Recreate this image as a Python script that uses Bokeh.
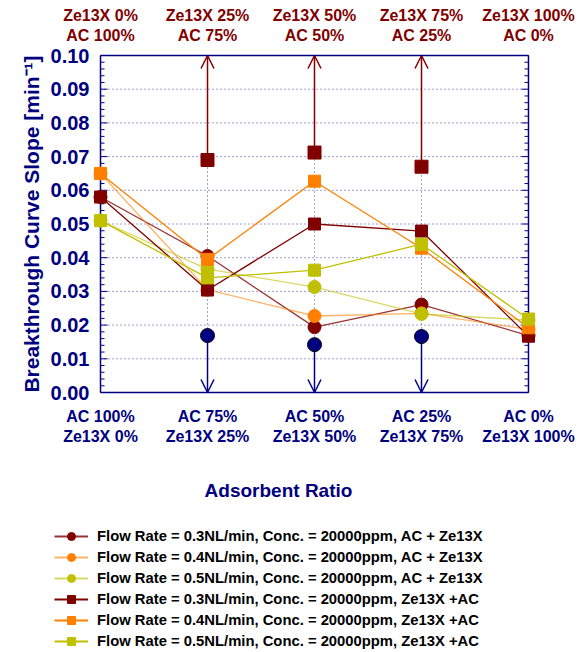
from bokeh.plotting import figure
from bokeh.layouts import column
from bokeh.models import (Range1d, LinearAxis, FixedTicker, Label, Arrow, OpenHead,
                          Legend, LegendItem, ColumnDataSource)
from bokeh.embed import file_html
from bokeh.resources import INLINE

# ---------------- data ----------------
categories = [0, 1, 2, 3, 4]
bottom_line1 = ["AC 100%", "AC 75%", "AC 50%", "AC 25%", "AC 0%"]
bottom_line2 = ["Ze13X 0%", "Ze13X 25%", "Ze13X 50%", "Ze13X 75%", "Ze13X 100%"]
top_line1 = ["Ze13X 0%", "Ze13X 25%", "Ze13X 50%", "Ze13X 75%", "Ze13X 100%"]
top_line2 = ["AC 100%", "AC 75%", "AC 50%", "AC 25%", "AC 0%"]

y_ticks = [0.00, 0.01, 0.02, 0.03, 0.04, 0.05, 0.06, 0.07, 0.08, 0.09, 0.10]
y_tick_labels = ["0.00", "0.01", "0.02", "0.03", "0.04", "0.05",
                 "0.06", "0.07", "0.08", "0.09", "0.10"]
y_minor = [round(i * 0.002, 4) for i in range(51)]
v_grid = [1, 2, 3]

s03_acze = [0.058, 0.0405, 0.0194, 0.0261, 0.0169]
s04_acze = [0.065, 0.0305, 0.0227, 0.0235, 0.0187]
s05_acze = [0.051, 0.0366, 0.0313, 0.0233, 0.0215]
s03_zeac = [0.058, 0.0304, 0.0500, 0.0479, 0.0167]
s04_zeac = [0.065, 0.0395, 0.0627, 0.0428, 0.0192]
s05_zeac = [0.051, 0.0340, 0.0363, 0.0440, 0.0218]

up_x = [1, 2, 3]
up_y = [0.069, 0.0712, 0.067]
down_x = [1, 2, 3]
down_y = [0.0169, 0.0142, 0.0166]

labels = [
    "Flow Rate = 0.3NL/min, Conc. = 20000ppm, AC + Ze13X",
    "Flow Rate = 0.4NL/min, Conc. = 20000ppm, AC + Ze13X",
    "Flow Rate = 0.5NL/min, Conc. = 20000ppm, AC + Ze13X",
    "Flow Rate = 0.3NL/min, Conc. = 20000ppm, Ze13X +AC",
    "Flow Rate = 0.4NL/min, Conc. = 20000ppm, Ze13X +AC",
    "Flow Rate = 0.5NL/min, Conc. = 20000ppm, Ze13X +AC",
]

# ---------------- styling ----------------
NAVY = "#000080"
DRED = "#800000"
ORANGE = "#ff8000"
YEL = "#c0c000"
GRID = "#4040b0"
FONT = "Liberation Sans"

XPX = 107.0      # pixels per x unit
YPX = 3370.0     # pixels per y unit
xpad = 8.0 / XPX
ypad = 3.0 / YPX

W = 585
H1 = 450
H2 = 652 - H1

p = figure(width=W, height=H1, output_backend="svg", toolbar_location=None,
           x_range=Range1d(-xpad, 4 + xpad), y_range=Range1d(-ypad, 0.1 + ypad),
           x_axis_location=None, y_axis_location=None,
           min_border_left=92, min_border_right=W - 92 - 444,
           min_border_top=52, min_border_bottom=H1 - 52 - 343)
p.outline_line_color = None
p.xgrid.visible = False
p.ygrid.visible = False
p.frame_align = False


def hide_rule(ax):
    ax.axis_line_color = None
    ax.major_tick_in = 0
    ax.major_tick_out = 0
    ax.minor_tick_in = 0
    ax.minor_tick_out = 0


# dotted grid lines
hg = y_ticks[1:-1]
p.segment(x0=[0] * len(hg), x1=[4] * len(hg), y0=hg, y1=hg,
          line_color=GRID, line_width=1, line_dash="1 3", level="underlay")
p.segment(x0=v_grid, x1=v_grid, y0=[0] * len(v_grid), y1=[0.1] * len(v_grid),
          line_color=GRID, line_width=1, line_dash="1 3", level="underlay")

# frame border and inward ticks (drawn at the data edges)
p.segment(x0=[0, 4, 0, 0], x1=[0, 4, 4, 4], y0=[0, 0, 0, 0.1], y1=[0.1, 0.1, 0, 0.1],
          line_color=NAVY, line_width=1.5)
maj_in = 7.0 / XPX
min_in = 4.0 / XPX
minor_only = [m for m in y_minor if all(abs(m - t) > 1e-9 for t in y_ticks)]
p.segment(x0=[0] * len(y_ticks), x1=[maj_in] * len(y_ticks), y0=y_ticks, y1=y_ticks,
          line_color=NAVY, line_width=1)
p.segment(x0=[0] * len(minor_only), x1=[min_in] * len(minor_only), y0=minor_only, y1=minor_only,
          line_color=NAVY, line_width=1)
p.segment(x0=[4] * len(y_ticks), x1=[4 - maj_in] * len(y_ticks), y0=y_ticks, y1=y_ticks,
          line_color=NAVY, line_width=1)
p.segment(x0=[4] * len(minor_only), x1=[4 - min_in] * len(minor_only), y0=minor_only, y1=minor_only,
          line_color=NAVY, line_width=1)

# left axis: tick labels and title
left = LinearAxis(ticker=FixedTicker(ticks=y_ticks, minor_ticks=[]),
                  axis_label="Breakthrough Curve Slope [min\u207b\u00b9]")
left.major_label_overrides = {t: l for t, l in zip(y_ticks, y_tick_labels)}
hide_rule(left)
left.major_label_text_font = FONT
left.major_label_text_font_style = "bold"
left.major_label_text_font_size = "20px"
left.major_label_text_color = NAVY
left.major_label_standoff = 3
left.axis_label_text_font = FONT
left.axis_label_text_font_style = "bold"
left.axis_label_text_font_size = "21px"
left.axis_label_text_color = NAVY
left.axis_label_standoff = 5
p.add_layout(left, "left")


def cat_axis(texts, color, standoff):
    ax = LinearAxis(ticker=FixedTicker(ticks=categories, minor_ticks=[]))
    ax.major_label_overrides = {c: t for c, t in zip(categories, texts)}
    hide_rule(ax)
    ax.major_label_text_font = FONT
    ax.major_label_text_font_style = "bold"
    ax.major_label_text_font_size = "16px"
    ax.major_label_text_color = color
    ax.major_label_standoff = standoff
    return ax


p.add_layout(cat_axis(bottom_line1, NAVY, 12), "below")
p.add_layout(cat_axis(bottom_line2, NAVY, 0), "below")
p.add_layout(cat_axis(top_line2, DRED, 9), "above")
p.add_layout(cat_axis(top_line1, DRED, 0), "above")

# arrows
up_src = ColumnDataSource(dict(x=up_x, y0=up_y, y1=[0.1] * len(up_x)))
down_src = ColumnDataSource(dict(x=down_x, y0=down_y, y1=[0.0] * len(down_x)))
p.add_layout(Arrow(end=OpenHead(size=13, line_color=DRED, line_width=1.5),
                   x_start="x", y_start="y0", x_end="x", y_end="y1",
                   source=up_src, line_color=DRED, line_width=1.5, level="underlay"))
p.add_layout(Arrow(end=OpenHead(size=13, line_color=NAVY, line_width=1.5),
                   x_start="x", y_start="y0", x_end="x", y_end="y1",
                   source=down_src, line_color=NAVY, line_width=1.5, level="underlay"))

series = [
    (s03_acze, DRED, "circle", 13, 0.8),
    (s04_acze, ORANGE, "circle", 13, 0.6),
    (s05_acze, YEL, "circle", 13, 0.6),
    (s03_zeac, DRED, "square", 12, 1.0),
    (s04_zeac, ORANGE, "square", 12, 1.0),
    (s05_zeac, YEL, "square", 12, 1.0),
]
for vals, col, mk, sz, la in series:
    p.line(categories, vals, line_color=col, line_width=1.3, line_alpha=la)
    p.scatter(categories, vals, marker=mk, size=sz, fill_color=col,
              line_color=col, line_width=1)

p.scatter(up_x, up_y, marker="square", size=13, fill_color=DRED, line_color=DRED)
p.scatter(down_x, down_y, marker="circle", size=14, fill_color=NAVY, line_color="black")

# ---------------- lower figure: x title + legend ----------------
q = figure(width=W, height=H2, output_backend="svg", toolbar_location=None,
           x_range=Range1d(0, W), y_range=Range1d(0, H2),
           x_axis_location=None, y_axis_location=None,
           min_border=0, min_border_left=0, min_border_right=0,
           min_border_top=0, min_border_bottom=0)
q.outline_line_color = None
q.xgrid.visible = False
q.ygrid.visible = False
q.frame_align = False

q.add_layout(Label(x=278, y=H2 - 40, text="Adsorbent Ratio", text_align="center",
                   text_baseline="middle", text_font=FONT, text_font_style="bold",
                   text_font_size="19px", text_color=NAVY))

# legend proxies placed outside the visible range of the lower figure
items = []
for (vals, col, mk, sz, la), lab in zip(series, labels):
    lr = q.line([-50, -40], [-50, -50], line_color=col, line_width=2, line_alpha=la)
    sr = q.scatter([-50], [-50], marker=mk, size=(12 if mk == "circle" else 10),
                   fill_color=col, line_color=col)
    items.append(LegendItem(label=lab, renderers=[lr, sr]))

legend = Legend(items=items, location=(54, 1), orientation="vertical",
                glyph_width=34, glyph_height=20, label_height=20, spacing=1,
                padding=0, margin=0, label_standoff=9,
                label_text_font=FONT, label_text_font_style="bold",
                label_text_font_size="14.8px", label_text_color="black",
                border_line_color=None, background_fill_alpha=0)
q.add_layout(legend, "center")

layout = column(p, q, spacing=0)
open("out.html", "w").write(file_html(layout, INLINE))
